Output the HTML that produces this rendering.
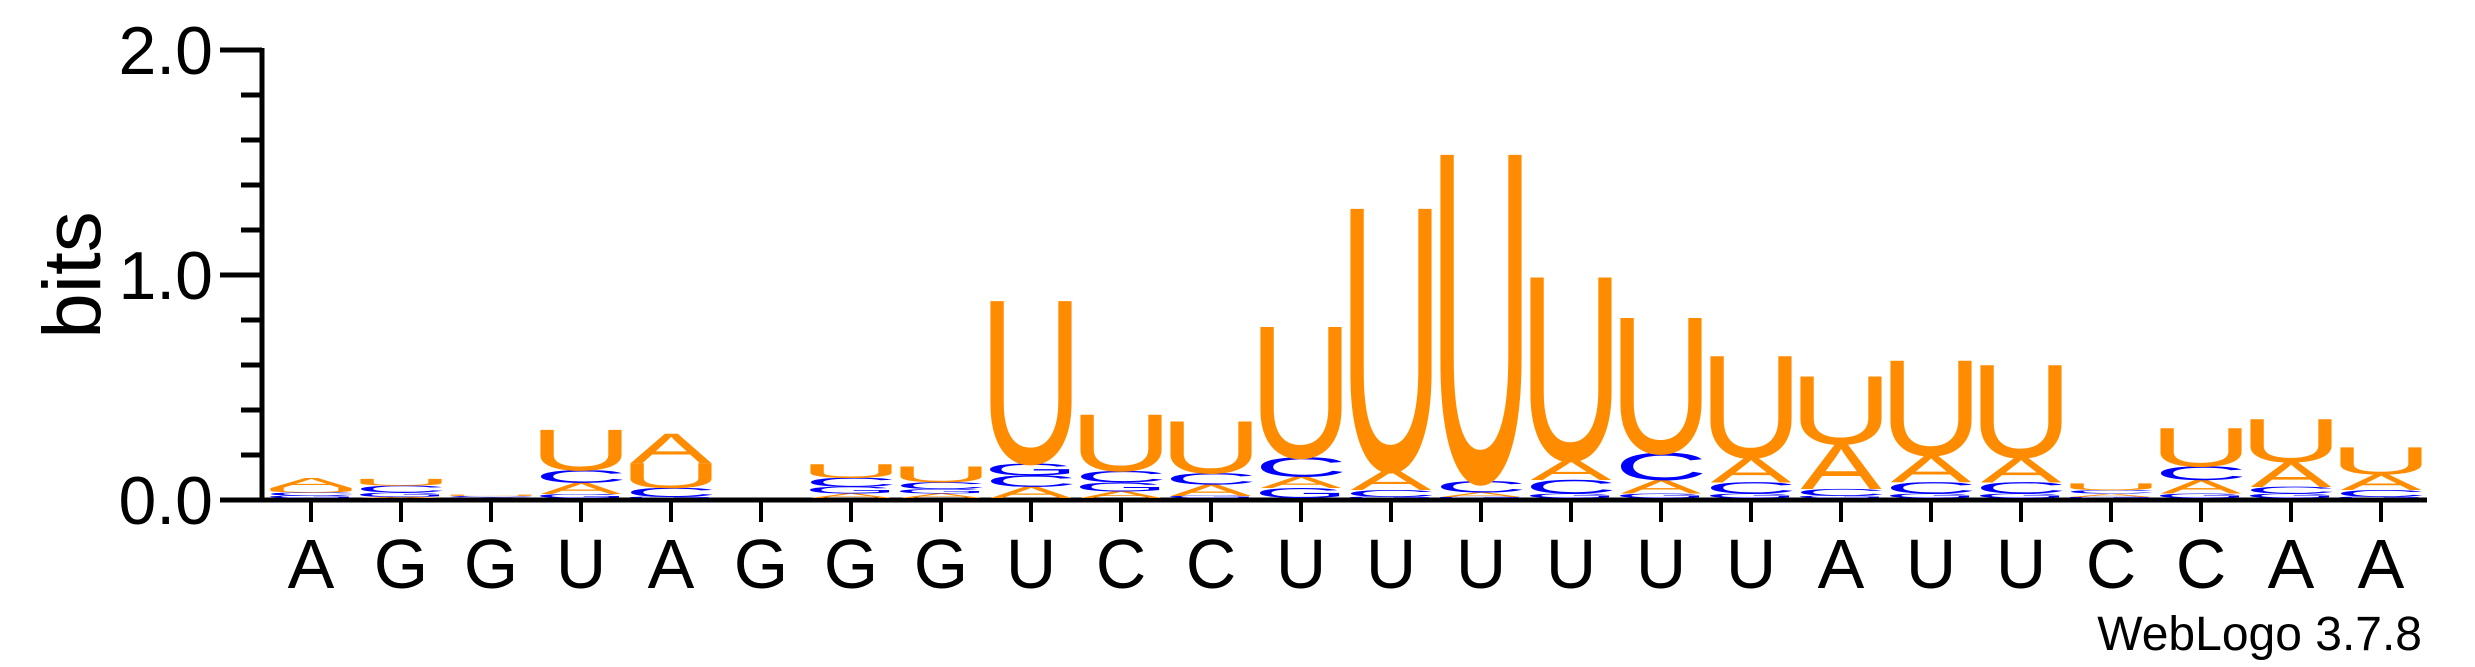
<!DOCTYPE html>
<html><head><meta charset="utf-8"><style>
html,body{margin:0;padding:0;background:#fff;}
svg{display:block;}
text{font-family:"Liberation Sans",Arial,sans-serif;}
</style></head><body>
<svg id="logo" width="2475" height="667" viewBox="0 0 2475 667" xmlns="http://www.w3.org/2000/svg">
<g id="axes"></g>
<g id="stacks"></g>
<text x="0" y="0" font-size="82" text-anchor="middle" transform="translate(100,275) rotate(-90)">bits</text>
<text x="2422" y="650" font-size="48" text-anchor="end">WebLogo 3.7.8</text>
</svg>
<script>
const positions = ["A","G","G","U","A","G","G","G","U","C","C","U","U","U","U","U","U","A","U","U","C","C","A","A"];
const bitsA = [0.045,0.005,0.002,0.05,0.13,0,0.02,0.02,0.05,0.03,0.05,0.05,0.09,0.02,0.09,0.06,0.11,0.2,0.12,0.11,0.015,0.06,0.11,0.07];
const bitsC = [0.015,0.03,0.005,0.055,0.04,0,0.04,0.03,0.05,0.05,0.05,0.085,0.03,0.05,0.06,0.12,0.05,0.03,0.05,0.05,0.015,0.06,0.03,0.03];
const bitsG = [0.01,0.02,0.002,0.018,0.005,0,0.03,0.02,0.055,0.04,0.01,0.045,0.005,0.005,0.02,0.02,0.02,0.01,0.02,0.02,0.005,0.02,0.02,0.005];
const bitsU = [0.02,0.03,0.006,0.18,0.11,0,0.06,0.07,0.72,0.25,0.23,0.58,1.16,1.45,0.81,0.6,0.45,0.3,0.42,0.41,0.03,0.17,0.19,0.12];
const yTicks = [0,0.2,0.4,0.6,0.8,1.0,1.2,1.4,1.6,1.8,2.0];
const yLabels = {0:"0.0",1:"1.0",2:"2.0"};

const NS = "http://www.w3.org/2000/svg";
const X0 = 311, DX = 90, Y0 = 498, PPB = 225;
const xPos = i => X0 + i*DX;
const yPos = b => 500 - b*PPB;
const colors = {A:"#FF8C00",U:"#FF8C00",C:"#0000FF",G:"#0000FF"};
const glyphW = {A:66,C:62,G:66,U:56};
const CAP = 68.8;

const axes = document.getElementById('axes');
function mk(tag, attrs, parent){const e=document.createElementNS(NS,tag);for(const k in attrs)e.setAttribute(k,attrs[k]);parent.appendChild(e);return e;}

let ln = mk('line',{x1:262,y1:yPos(2)-2,x2:262,y2:502,stroke:'#000','stroke-width':5},axes);


ln = mk('line',{x1:260,y1:500,x2:2427,y2:500,stroke:'#000','stroke-width':5},axes);



yTicks.forEach(v=>{
  const major = Math.abs(v-Math.round(v))<1e-6;
  const t = mk('line',{x1:major?220:241,y1:yPos(v),x2:262,y2:yPos(v),stroke:'#000','stroke-width':5},axes);
  
  
  if(major){
    const tx = mk('text',{x:213,y:yPos(v)+24,'font-size':68,'text-anchor':'end'},axes);
    tx.textContent = yLabels[Math.round(v)];
    
    
  }
});

positions.forEach((p,i)=>{
  const t = mk('line',{x1:xPos(i),y1:500,x2:xPos(i),y2:522,stroke:'#000','stroke-width':4},axes);
  
  
  const tx = mk('text',{x:xPos(i),y:588,'font-size':70,'text-anchor':'middle'},axes);
  tx.textContent = p;
  
  
});

const stacks = document.getElementById('stacks');
positions.forEach((p,i)=>{
  const g = mk('g',{},stacks);
  
  
  const items = [['A',bitsA[i]],['C',bitsC[i]],['G',bitsG[i]],['U',bitsU[i]]].sort((a,b)=>a[1]-b[1]);
  let base = 0;
  items.forEach(([l,b])=>{
    if(b<=0) return;
    const h = b*PPB;
    const bottom = Y0 - base*PPB;
    const sx = 80/glyphW[l];
    const sy = h/CAP;
    const tx = mk('text',{x:0,y:0,'font-size':100,'text-anchor':'middle',fill:colors[l],
      transform:`translate(${xPos(i)},${bottom}) scale(${sx},${sy})`},g);
    tx.textContent = l;
    
    
    base += b;
  });
});
</script>
</body></html>
